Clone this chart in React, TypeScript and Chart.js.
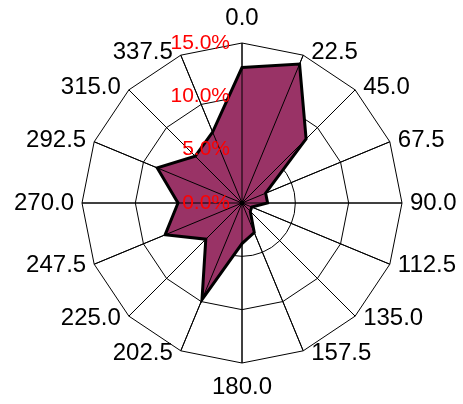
import React, { useEffect, useRef } from "react";
import { Chart, registerables } from "chart.js";

Chart.register(...registerables);

const directions: string[] = [
  "0.0", "22.5", "45.0", "67.5", "90.0", "112.5", "135.0", "157.5",
  "180.0", "202.5", "225.0", "247.5", "270.0", "292.5", "315.0", "337.5",
];
const frequency: number[] = [
  12.7, 14.1, 8.5, 2.4, 2.4, 1.0, 1.1, 3.0,
  3.8, 9.8, 4.8, 7.8, 6.0, 8.6, 6.2, 7.2,
];
const tickValues: number[] = [0, 5, 10, 15];
const tickLabels: string[] = ["0.0%", "5.0%", "10.0%", "15.0%"];

const CX = 242;
const CY = 203;
const R = 160;

const overlayPlugin = {
  id: "roseOverlay",
  beforeDatasetsDraw(chart: any) {
    const s = chart.scales.r;
    const ctx = chart.ctx;
    ctx.save();
    ctx.strokeStyle = "#000";
    ctx.lineWidth = 1;
    ctx.beginPath();
    ctx.arc(s.xCenter, s.yCenter, s.getDistanceFromCenterForValue(5), 0, Math.PI * 2);
    ctx.stroke();
    ctx.restore();
  },
  afterDatasetsDraw(chart: any) {
    const s = chart.scales.r;
    const ctx = chart.ctx;
    ctx.save();
    ctx.strokeStyle = "#000";
    ctx.lineWidth = 1;
    for (let i = 0; i < directions.length; i++) {
      const p = s.getPointPosition(i, s.drawingArea);
      ctx.beginPath();
      ctx.moveTo(s.xCenter, s.yCenter);
      ctx.lineTo(p.x, p.y);
      ctx.stroke();
    }
    ctx.fillStyle = "#000";
    ctx.beginPath();
    ctx.arc(s.xCenter, s.yCenter, 2.5, 0, Math.PI * 2);
    ctx.fill();
    // point labels
    ctx.font = '24px "Liberation Sans", Arial, sans-serif';
    ctx.fillStyle = "#000";
    ctx.textBaseline = "middle";
    for (let i = 0; i < directions.length; i++) {
      const a = (i * 22.5 * Math.PI) / 180;
      const p = s.getPointPosition(i, s.drawingArea);
      let x = p.x;
      let y = p.y;
      if (i === 0) {
        ctx.textAlign = "center";
        y -= 25;
      } else if (i === 8) {
        ctx.textAlign = "center";
        y += 24;
      } else if (i < 8) {
        ctx.textAlign = "left";
        x += 8;
        y -= 3 * Math.cos(a);
      } else {
        ctx.textAlign = "right";
        x -= 8;
        y -= 3 * Math.cos(a);
      }
      ctx.fillText(directions[i], x, y);
    }
    // tick labels
    ctx.font = '21px "Liberation Sans", Arial, sans-serif';
    ctx.fillStyle = "#ff0000";
    ctx.textAlign = "right";
    ctx.textBaseline = "middle";
    for (let k = 0; k < tickValues.length; k++) {
      const d = s.getDistanceFromCenterForValue(tickValues[k]);
      ctx.fillText(tickLabels[k], s.xCenter - 12, s.yCenter - d);
    }
    ctx.restore();
  },
};

export default function App() {
  const ref = useRef<HTMLCanvasElement | null>(null);
  useEffect(() => {
    document.body.style.margin = "0";
    const canvas = ref.current;
    if (!canvas) return;
    const chart = new Chart(canvas, {
      type: "radar",
      data: {
        labels: directions,
        datasets: [
          {
            data: frequency,
            backgroundColor: "#993366",
            borderColor: "#000000",
            borderWidth: 3,
            pointRadius: 0,
            pointHoverRadius: 0,
            fill: true,
            tension: 0,
          },
        ],
      },
      options: {
        responsive: false,
        animation: false,
        events: [],
        plugins: {
          legend: { display: false },
          tooltip: { enabled: false },
        },
        elements: { line: { borderJoinStyle: "miter" } },
        scales: {
          r: {
            min: 0,
            max: 15,
            ticks: { stepSize: 5, display: false },
            pointLabels: { display: false },
            grid: {
              color: (c: any) => (c.tick && c.tick.value === 5 ? "rgba(0,0,0,0)" : "#000000"),
              lineWidth: 1,
            },
            angleLines: { display: true, color: "#000000", lineWidth: 1 },
            afterFit: (scale: any) => {
              scale.xCenter = CX;
              scale.yCenter = CY;
              scale.drawingArea = R;
            },
          },
        },
      },
      plugins: [overlayPlugin],
    });
    return () => chart.destroy();
  }, []);
  return (
    <div style={{ width: 463, height: 404, background: "#fff" }}>
      <canvas ref={ref} width={463} height={404} style={{ display: "block" }} />
    </div>
  );
}
